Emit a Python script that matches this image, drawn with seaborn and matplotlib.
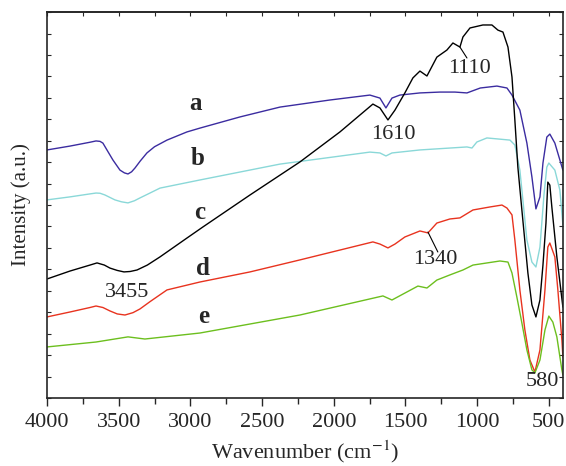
import numpy as np
import pandas as pd
import seaborn as sns
import matplotlib.pyplot as plt
from matplotlib.ticker import MultipleLocator

# FTIR spectra, values (wavenumber in cm-1, intensity in a.u.)
a_wn = [4000, 3840, 3700, 3658, 3630, 3610, 3580, 3540, 3491, 3460, 3435, 3410, 3386,
        3350, 3303, 3250, 3163, 3024, 2933, 2654, 2375, 2027, 1748, 1678, 1636, 1594,
        1539, 1399, 1260, 1155, 1071, 978, 862, 792, 757, 702, 653, 618, 590, 562, 541,
        514, 493, 458, 402]
a_y = [11.57, 11.75, 11.93, 11.99, 11.97, 11.89, 11.55, 11.10, 10.63, 10.50, 10.45, 10.55,
       10.73, 11.05, 11.43, 11.72, 12.03, 12.41, 12.59, 13.11, 13.57, 13.90, 14.13, 13.99,
       13.53, 13.99, 14.13, 14.23, 14.27, 14.27, 14.23, 14.46, 14.55, 14.46, 14.13, 13.43,
       11.89, 10.31, 8.82, 9.38, 10.96, 12.17, 12.31, 11.89, 10.63]

b_wn = [4000, 3840, 3700, 3658, 3630, 3596, 3526, 3480, 3435, 3390, 3352, 3300, 3212,
        2933, 2375, 1748, 1678, 1636, 1594, 1399, 1071, 1036, 1002, 932, 771, 737, 702,
        653, 618, 590, 562, 534, 514, 500, 458, 423, 402]
b_y = [9.24, 9.38, 9.52, 9.56, 9.55, 9.47, 9.24, 9.15, 9.10, 9.20, 9.33, 9.50, 9.79,
       10.17, 10.91, 11.47, 11.43, 11.29, 11.43, 11.57, 11.71, 11.66, 11.94, 12.13, 12.03,
       11.80, 10.63, 7.37, 6.34, 6.11, 7.04, 9.47, 10.77, 10.96, 10.63, 9.70, 8.07]

c_wn = [4000, 3840, 3700, 3651, 3600, 3561, 3510, 3463, 3420, 3372, 3300, 3212, 3024,
        2912, 2584, 2236, 1957, 1727, 1678, 1622, 1573, 1504, 1448, 1399, 1350, 1281,
        1211, 1169, 1120, 1099, 1050, 960, 897, 855, 820, 785, 757, 737, 716, 688, 646,
        618, 590, 562, 541, 520, 507, 493, 479, 444, 402]
c_y = [5.55, 5.92, 6.20, 6.30, 6.20, 6.06, 5.95, 5.88, 5.90, 5.97, 6.20, 6.58, 7.46, 7.98,
       9.47, 11.01, 12.41, 13.71, 13.53, 12.97, 13.43, 14.23, 14.93, 15.25, 15.02, 15.90,
       16.23, 16.56, 16.37, 16.84, 17.26, 17.40, 17.40, 17.16, 17.07, 16.37, 14.97, 12.97,
       10.77, 8.77, 5.83, 4.34, 3.78, 4.57, 6.20, 8.16, 10.07, 9.93, 8.91, 6.58, 4.24]

d_wn = [4000, 3840, 3700, 3658, 3610, 3561, 3510, 3456, 3400, 3352, 3280, 3163, 2933,
        2584, 2236, 1727, 1678, 1622, 1573, 1504, 1399, 1343, 1281, 1190, 1120, 1029,
        911, 827, 792, 757, 737, 702, 667, 632, 597, 562, 527, 507, 493, 458, 437, 409,
        402]
d_y = [3.78, 4.01, 4.22, 4.29, 4.22, 4.06, 3.92, 3.87, 3.98, 4.15, 4.50, 5.04, 5.41, 5.88,
       6.44, 7.28, 7.18, 7.00, 7.18, 7.51, 7.79, 7.70, 8.16, 8.35, 8.40, 8.77, 8.91, 9.00,
       8.86, 8.54, 7.37, 5.04, 3.17, 1.77, 1.21, 2.24, 5.04, 7.04, 7.23, 6.58, 5.04, 2.71,
       1.91]

e_wn = [4000, 3658, 3435, 3317, 2933, 2236, 1657, 1594, 1413, 1350, 1281, 1190, 1099,
        1029, 841, 785, 757, 723, 688, 653, 618, 597, 562, 527, 500, 472, 444, 409, 402]
e_y = [2.38, 2.61, 2.85, 2.75, 3.03, 3.87, 4.76, 4.57, 5.22, 5.13, 5.50, 5.74, 5.97, 6.20,
       6.39, 6.34, 5.83, 4.71, 3.50, 2.24, 1.31, 1.17, 1.77, 3.17, 3.82, 3.54, 2.85, 1.31,
       1.07]

samples = ['a', 'b', 'c', 'd', 'e']
colors = ['#3b2ca0', '#8ad8d8', '#000000', '#e8331f', '#6cbf1e']

frames = []
for name, wn, y in zip(samples, [a_wn, b_wn, c_wn, d_wn, e_wn], [a_y, b_y, c_y, d_y, e_y]):
    frames.append(pd.DataFrame({'wn': wn, 'y': y, 'sample': name}))
df = pd.concat(frames, ignore_index=True)

sns.set_style('ticks')
plt.rcParams['font.family'] = ['Liberation Serif', 'DejaVu Serif']
plt.rcParams['mathtext.fontset'] = 'stix'

fig = plt.figure(figsize=(5.66, 4.66), dpi=100)
ax = fig.add_axes([0.083, 0.146, 0.912, 0.828])

sns.lineplot(data=df, x='wn', y='y', hue='sample', palette=dict(zip(samples, colors)),
             estimator=None, sort=False, linewidth=1.0, legend=False, ax=ax)

ax.set_xlim(4000, 400)
ax.set_ylim(0, 18)
ax.xaxis.set_major_locator(MultipleLocator(500))
ax.xaxis.set_minor_locator(MultipleLocator(250))
ax.yaxis.set_major_locator(MultipleLocator(1))
ax.set_yticklabels([])
ax.tick_params(axis='x', which='major', direction='out', length=6, width=1,
               labelsize=16, pad=5)
ax.tick_params(axis='x', which='minor', direction='out', length=4, width=1)
ax.tick_params(axis='y', direction='in', length=3, width=0.8, left=True, right=True)

top = ax.secondary_xaxis('top')
top.xaxis.set_major_locator(MultipleLocator(250))
top.tick_params(direction='in', length=3, width=0.8, labeltop=False)

for s in ax.spines.values():
    s.set_linewidth(1.2)
top.spines['top'].set_linewidth(1.2)

ax.set_xlabel('Wavenumber (cm$^{-1}$)', fontsize=16)
ax.xaxis.set_label_coords(0.5, -0.105)
ax.set_ylabel('Intensity (a.u.)', fontsize=15)
ax.yaxis.set_label_coords(-0.03, 0.5)

# sample labels
for name, xx, yy in zip(samples, [2961, 2947, 2933, 2912, 2905],
                        [13.76, 11.19, 8.63, 6.06, 3.78]):
    ax.text(xx, yy, name, fontsize=18, fontweight='bold', ha='center', va='center')

# band annotations
ax.text(1050, 15.39, '1110', fontsize=16, ha='center', va='center')
ax.plot([1120, 1071], [16.37, 15.86], color='black', lw=0.8)
ax.text(1587, 12.27, '1610', fontsize=16, ha='center', va='center')
ax.text(1294, 6.44, '1340', fontsize=16, ha='center', va='center')
ax.plot([1343, 1274], [7.74, 6.81], color='black', lw=0.8)
ax.text(3442, 4.94, '3455', fontsize=16, ha='center', va='center')
ax.text(548, 0.75, '580', fontsize=16, ha='center', va='center')

fig.savefig('out.png', dpi=100)
